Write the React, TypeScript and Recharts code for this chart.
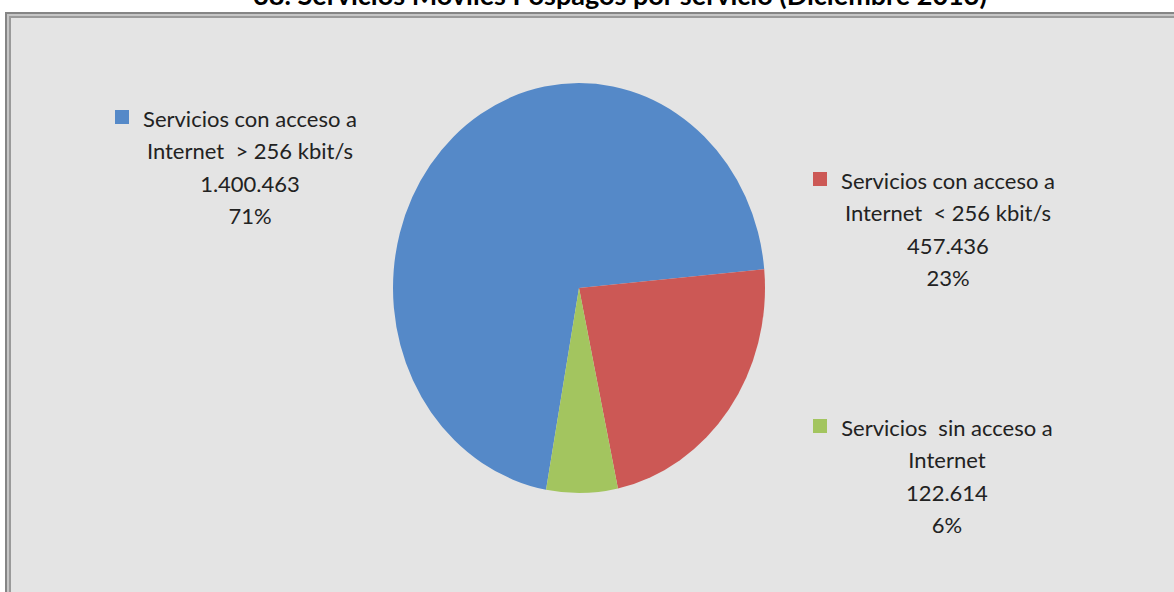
import { PieChart, Pie, Cell } from "recharts";

const title = "38. Servicios Móviles Pospagos por servicio (Diciembre 2013)";

const categoryLines = [
  ["Servicios con acceso a", "Internet  > 256 kbit/s"],
  ["Servicios con acceso a", "Internet  < 256 kbit/s"],
  ["Servicios  sin acceso a", "Internet"],
];
const values = [1400463, 457436, 122614];
const colors = ["#5589c8", "#cc5855", "#a3c55f"];

// where each Excel-style label block sits (text centre, first line middle)
const labelSpots = [
  { x: 250, y: 118, box: 115 },
  { x: 948, y: 180, box: 813 },
  { x: 947, y: 427, box: 813 },
];

const data = values.map((v, i) => ({ name: categoryLines[i].join(" "), value: v }));

const W = 1174;
const H = 592;
const CX = 579;
const CY = 288;
const R = 205;
const SQUASH = 186 / 205;
const LINE = 32.5;
const FONT = "Lato, 'Open Sans', sans-serif";

const fmt = (v: number) => String(v).replace(/\B(?=(\d{3})+(?!\d))/g, ".");

function SliceLabel(props: Record<string, unknown>) {
  const { index, percent, value } = props as { index: number; percent: number; value: number };
  const spot = labelSpots[index];
  if (!spot) return null;
  const lines = [...categoryLines[index], fmt(value), `${Math.round(percent * 100)}%`];
  return (
    <g>
      <rect x={spot.box} y={spot.y - 8} width={14} height={14} fill={colors[index]} />
      {lines.map((t, k) => (
        <text
          key={k}
          x={spot.x}
          y={spot.y + k * LINE}
          textAnchor="middle"
          dominantBaseline="central"
          fill="#222"
          fontSize={22}
          fontFamily={FONT}
          style={{ whiteSpace: "pre" }}
        >
          {t}
        </text>
      ))}
    </g>
  );
}

export default function App() {
  return (
    <div style={{ position: "absolute", left: 0, top: 0, width: W, height: H, overflow: "hidden", background: "#fff" }}>
      <style>{`.recharts-sector { transform-origin: ${CX}px ${CY}px; transform: scaleX(${SQUASH}); }`}</style>
      <div
        style={{
          position: "absolute",
          left: 0,
          width: 1240,
          top: -21,
          textAlign: "center",
          fontFamily: FONT,
          fontWeight: 700,
          fontSize: 27,
          lineHeight: 1.2,
          color: "#000",
          whiteSpace: "nowrap",
        }}
      >
        {title}
      </div>
      <div
        style={{
          position: "absolute",
          left: 5,
          top: 12,
          width: 1220,
          height: 640,
          background: "#e4e4e4",
          border: "2px solid #858585",
          boxShadow: "inset 2px 2px 0 #c6c6c6, inset 4px 4px 0 #9a9a9a",
        }}
      />
      <div style={{ position: "absolute", left: 0, top: 0 }}>
        <PieChart width={W} height={H} margin={{ top: 0, right: 0, bottom: 0, left: 0 }}>
          <Pie
            data={data}
            dataKey="value"
            nameKey="name"
            cx={CX}
            cy={CY}
            outerRadius={R}
            startAngle={-100.2}
            endAngle={-460.2}
            stroke="none"
            label={SliceLabel}
            labelLine={false}
            isAnimationActive={false}
          >
            {data.map((d, i) => (
              <Cell key={d.name} fill={colors[i]} />
            ))}
          </Pie>
        </PieChart>
      </div>
    </div>
  );
}
